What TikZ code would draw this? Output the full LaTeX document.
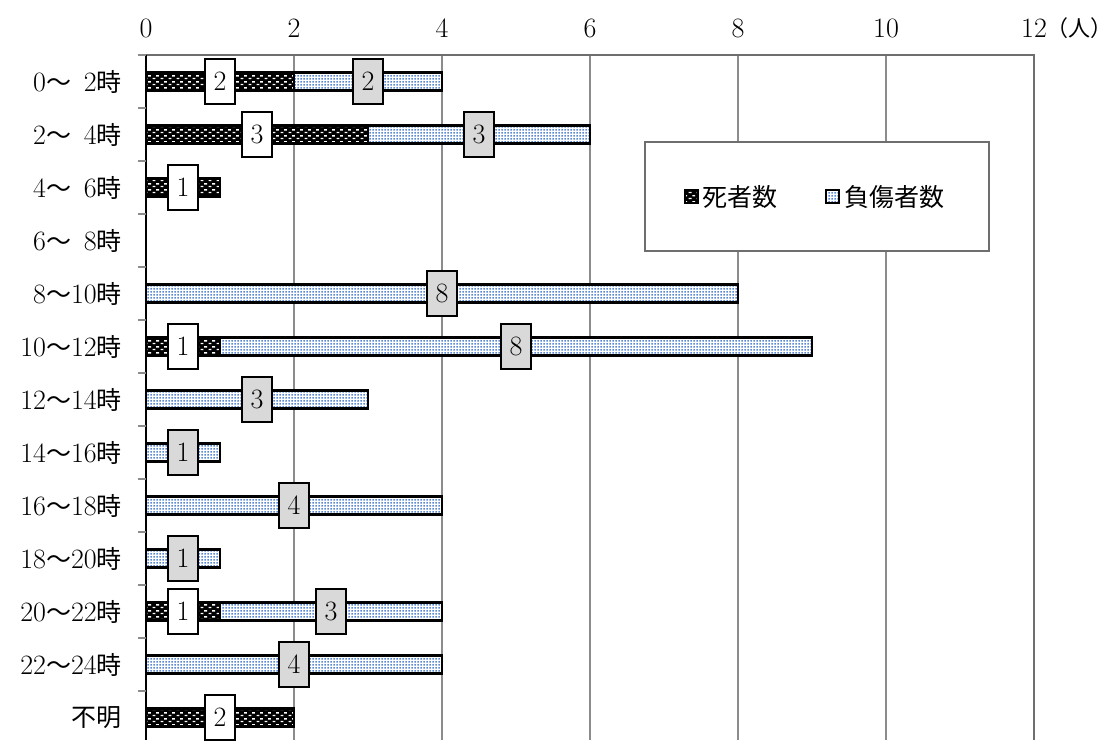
\documentclass[tikz,border=0pt]{standalone}
\usepackage{fontspec}
\newfontfamily\jp{Noto Sans CJK JP}
\newcommand\J[1]{{\fontsize{25}{30}\selectfont\jp #1}}
\usetikzlibrary{patterns.meta}
\definecolor{gridgray}{HTML}{8C8C8C}
\definecolor{framegray}{HTML}{6E6E6E}
\definecolor{lblgray}{HTML}{D9D9D9}
\definecolor{dotblue}{HTML}{5A88D2}
\tikzdeclarepattern{name=deadpat, type=uncolored,
  bounding box={(0pt,0pt) and (8pt,6pt)}, tile size={(8pt,6pt)},
  code={\fill (0.6pt,0.9pt) rectangle (3.8pt,2.4pt);
        \fill (4.6pt,3.9pt) rectangle (7.8pt,5.4pt);}}
\tikzdeclarepattern{name=injpat, type=uncolored,
  bounding box={(0pt,0pt) and (3pt,3pt)}, tile size={(3pt,3pt)},
  code={\fill (0.6pt,0.6pt) rectangle (2.4pt,2.4pt);}}
\tikzset{
  every node/.style={font=\fontsize{28}{32}\selectfont, inner sep=0pt},
  deadfill/.style={fill=black, postaction={pattern=deadpat, pattern color=white}},
  injfill/.style={fill=white, postaction={pattern=injpat, pattern color=dotblue}},
  barline/.style={draw=black, line width=2.7pt},
  gridline/.style={draw=gridgray, line width=1.1pt},
  lblbox/.style={draw=black, line width=1.9pt, minimum width=30pt, minimum height=45pt, inner sep=0pt},
  deadlbl/.style={lblbox, fill=white},
  injlbl/.style={lblbox, fill=lblgray},
  catlbl/.style={anchor=east},
  axlbl/.style={anchor=center},
}
\begin{document}
\begin{tikzpicture}[x=1pt,y=-1pt]
\useasboundingbox (0,0) rectangle (1113,740);
% grid
\foreach \v in {2,4,...,10} {
  \draw[gridline] ({146+74*\v},55) -- ({146+74*\v},740);
}
\draw[draw=framegray, line width=1.5pt] (146,55) -- (1034,55) -- (1034,740);
\draw[draw=black, line width=1.4pt] (146,55) -- (146,740);
\foreach \k in {0,...,13} {
  \draw[draw=gridgray, line width=1.2pt] (138,{55+53*\k}) -- (146,{55+53*\k});
}
% top axis labels
\foreach \v in {0,2,...,10} {
  \node[axlbl] (ax\v) at ({146+74*\v},28) {\v};
}
\node[axlbl] (ax12) at (1034,28) {12};
\node[anchor=east] (unit) at (1112.5,28) {{\fontsize{22}{26}\selectfont\jp （人）}};
% category labels
\foreach \a/\b [count=\k from 0] in {0/\phantom{0}2,2/\phantom{0}4,4/\phantom{0}6,6/\phantom{0}8,8/10,10/12,12/14,14/16,16/18,18/20,20/22,22/24} {
  \node[catlbl] (cat\k) at (122,{81.5+53*\k}) {\a\J{～}\b\J{時}};
}
\node[catlbl] (cat12) at (122,{81.5+53*12}) {\J{不明}};
% dead bars
\foreach \r/\a/\b in {0/0/2,1/0/3,2/0/1,5/0/1,10/0/1,12/0/2} {
  \fill[deadfill] ({146+74*\a},{81.5+53*\r-9}) rectangle ({146+74*\b},{81.5+53*\r+9});
  \draw[barline] ({146+74*\a},{81.5+53*\r-9}) rectangle ({146+74*\b},{81.5+53*\r+9});
}
% injured bars
\foreach \r/\a/\b in {0/2/4,1/3/6,4/0/8,5/1/9,6/0/3,7/0/1,8/0/4,9/0/1,10/1/4,11/0/4} {
  \fill[injfill] ({146+74*\a},{81.5+53*\r-9}) rectangle ({146+74*\b},{81.5+53*\r+9});
  \draw[barline] ({146+74*\a},{81.5+53*\r-9}) rectangle ({146+74*\b},{81.5+53*\r+9});
}
% labels
\foreach \r/\a/\b/\n [count=\k] in {0/0/2/2,1/0/3/3,2/0/1/1,5/0/1/1,10/0/1/1,12/0/2/2} {
  \node[deadlbl] (dl\k) at ({146+37*(\a+\b)},{81.5+53*\r}) {\n};
}
\foreach \r/\a/\b/\n [count=\k] in {0/2/4/2,1/3/6/3,4/0/8/8,5/1/9/8,6/0/3/3,7/0/1/1,8/0/4/4,9/0/1/1,10/1/4/3,11/0/4/4} {
  \node[injlbl] (il\k) at ({146+37*(\a+\b)},{81.5+53*\r}) {\n};
}
% legend
\draw[draw=framegray, line width=1.1pt, fill=white] (645,142) rectangle (989,251);
\fill[deadfill] (685,190) rectangle (698,203);
\draw[draw=black, line width=1.6pt] (685,190) rectangle (698,203);
\node[anchor=west] (lg1) at (702,197) {\J{死者数}};
\fill[injfill] (826,190) rectangle (839,203);
\draw[draw=black, line width=1.6pt] (826,190) rectangle (839,203);
\node[anchor=west] (lg2) at (844,197) {\J{負傷者数}};
\end{tikzpicture}
\end{document}
